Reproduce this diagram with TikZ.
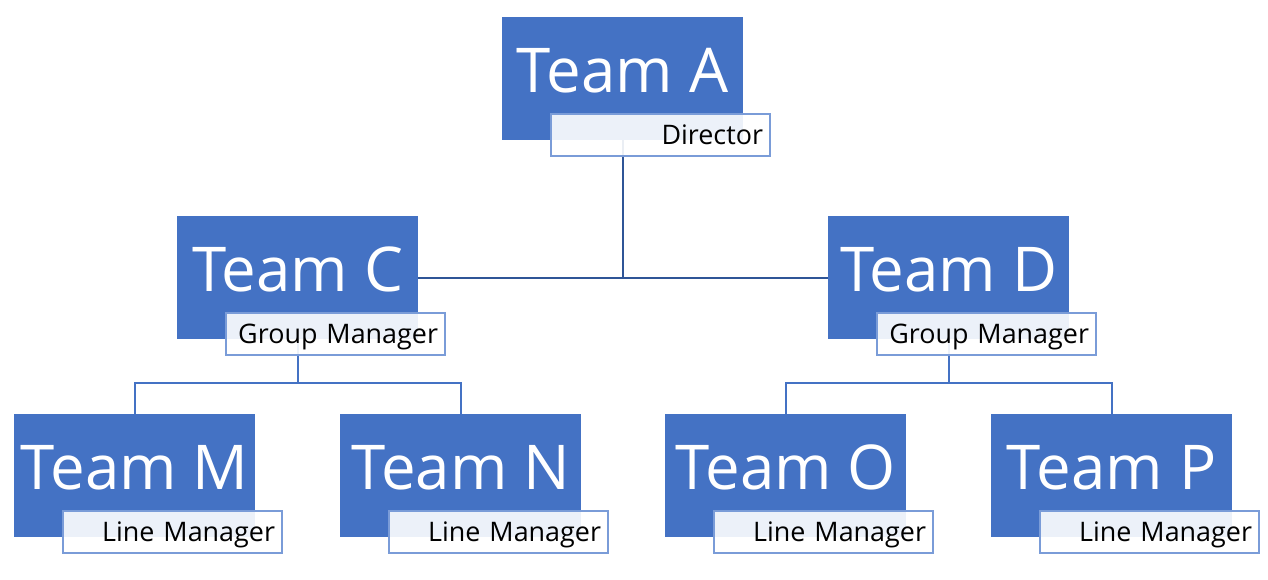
\documentclass[tikz,border=0pt]{standalone}
\usepackage{fontspec}
\setmainfont{Open Sans}
\usetikzlibrary{calc}
\definecolor{teamblue}{HTML}{4472C4}
\definecolor{lblborder}{HTML}{7A9CD8}
\definecolor{connA}{HTML}{2F5597}
\definecolor{connB}{HTML}{4472C4}
\tikzset{
  teambox/.style={draw=none, fill=teamblue, minimum width=241bp, minimum height=123bp, inner sep=0pt, anchor=north west},
  teamtxt/.style={text=white, inner sep=0pt, anchor=base, font=\fontsize{62}{62}\selectfont},
  lblbox/.style={draw=lblborder, line width=2bp, fill=white, fill opacity=0.9, text opacity=1,
    minimum width=219bp, minimum height=42bp, text width=205bp, inner xsep=7bp, inner ysep=0pt,
    align=right, text height=19bp, text depth=0pt, anchor=north west, font=\fontsize{27}{27}\selectfont},
  connhi/.style={draw=connA, line width=2bp},
  connlo/.style={draw=connB, line width=2bp},
}
\begin{document}
\begin{tikzpicture}[x=1bp, y=-1bp]
\useasboundingbox (0,0) rectangle (1268,580);
% boxes
\path
  (502,17)  node[teambox] (A) {}
  (177,216) node[teambox] (C) {}
  (828,216) node[teambox] (D) {}
  (14,414)  node[teambox] (M) {}
  (340,414) node[teambox] (N) {}
  (665,414) node[teambox] (O) {}
  (991,414) node[teambox] (P) {};
\coordinate (Cbus) at ($(C.south)+(0,44)$);
\coordinate (Dbus) at ($(D.south)+(0,44)$);
% connectors
\draw[connhi] (A.center) -- (A.center |- C.east);
\draw[connhi] (C.east) -- (D.west);
\draw[connlo] (C.center) -- (Cbus);
\draw[connlo] (M.north) |- (Cbus) -| (N.north);
\draw[connlo] (D.center) -- (Dbus);
\draw[connlo] (O.north) |- (Dbus) -| (P.north);
% boxes again on top of the connectors
\foreach \b in {A,C,D,M,N,O,P} {
  \fill[teamblue] (\b.north west) rectangle (\b.south east);
}
% team texts
\node[teamtxt] (At) at ([yshift=-14bp]A.center) {Team A};
\node[teamtxt] (Ct) at ([yshift=-14bp]C.center) {Team C};
\node[teamtxt] (Dt) at ([yshift=-14bp]D.center) {Team D};
\node[teamtxt] (Mt) at ([yshift=-14bp]M.center) {Team M};
\node[teamtxt] (Nt) at ([yshift=-14bp]N.center) {Team N};
\node[teamtxt] (Ot) at ([yshift=-14bp]O.center) {Team O};
\node[teamtxt] (Pt) at ([yshift=-14bp]P.center) {Team P};
% labels
\node[lblbox] (Al) at ([xshift=48bp,yshift=-96bp]A.north west) {Director};
\node[lblbox] (Cl) at ([xshift=48bp,yshift=-96bp]C.north west) {Group Manager};
\node[lblbox] (Dl) at ([xshift=48bp,yshift=-96bp]D.north west) {Group Manager};
\node[lblbox] (Ml) at ([xshift=48bp,yshift=-96bp]M.north west) {Line Manager};
\node[lblbox] (Nl) at ([xshift=48bp,yshift=-96bp]N.north west) {Line Manager};
\node[lblbox] (Ol) at ([xshift=48bp,yshift=-96bp]O.north west) {Line Manager};
\node[lblbox] (Pl) at ([xshift=48bp,yshift=-96bp]P.north west) {Line Manager};
\end{tikzpicture}
\end{document}
